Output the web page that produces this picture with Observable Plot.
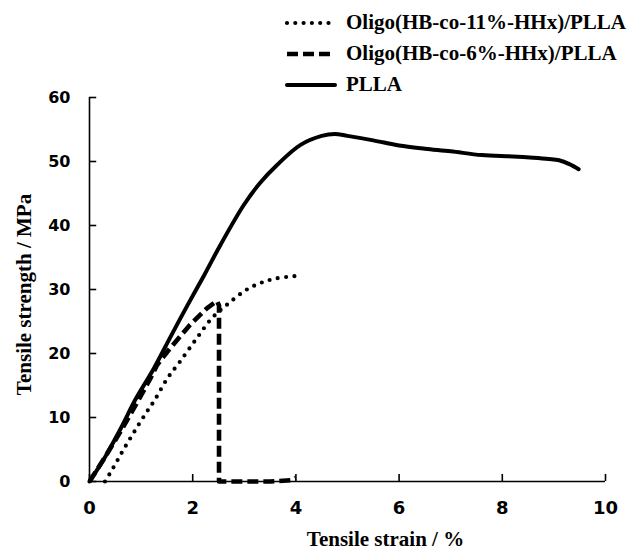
<!DOCTYPE html>
<html><head><meta charset="utf-8">
<script src="https://cdn.jsdelivr.net/npm/d3@7"></script>
<script src="https://cdn.jsdelivr.net/npm/@observablehq/plot@0.6"></script>
<style>
body{margin:0;background:#fff}
#wrap{position:relative;width:636px;height:554px;background:#fff}
#legend{position:absolute;left:284px;top:7px;font-family:"Liberation Serif",serif;font-weight:bold;font-size:21px;color:#000}
.row{display:flex;align-items:center;height:31px;white-space:nowrap}
.row svg{margin-right:8px}
</style></head><body><div id="wrap"></div>
<script>
const seriesNames = ["Oligo(HB-co-11%-HHx)/PLLA", "Oligo(HB-co-6%-HHx)/PLLA", "PLLA"];
const xTitle = "Tensile strain / %";
const yTitle = "Tensile strength / MPa";
const xTicks = [0, 2, 4, 6, 8, 10];
const yTicks = [0, 10, 20, 30, 40, 50, 60];

const strain11 = [0.30, 0.45, 0.66, 0.90, 1.12, 1.27, 1.50, 1.76, 2.08, 2.37, 2.66, 3.05, 3.31, 3.60, 3.99];
const stress11 = [0.0, 2.0, 5.0, 8.2, 11.0, 12.8, 16.0, 18.8, 22.4, 25.5, 27.6, 30.0, 31.0, 31.7, 32.1];

const strain6 = [0.00, 0.30, 0.60, 0.90, 1.18, 1.31, 1.56, 1.95, 2.28, 2.47, 2.51, 2.51, 3.00, 3.50, 3.90, 3.99];
const stress6 = [0.0, 3.8, 7.8, 12.0, 16.1, 18.2, 20.8, 24.5, 27.1, 28.2, 27.5, 0.0, 0.0, 0.0, 0.2, 0.6];

const strainPLLA = [0.00, 0.30, 0.60, 0.89, 1.25, 1.57, 1.89, 2.22, 2.54, 2.99, 3.30, 3.64, 4.09, 4.50, 4.75, 5.00, 5.50, 6.00, 6.50, 7.00, 7.60, 8.20, 8.60, 8.90, 9.10, 9.30, 9.48];
const stressPLLA = [0.0, 3.8, 8.2, 12.8, 17.7, 22.6, 27.4, 32.2, 37.0, 43.2, 46.6, 49.5, 52.6, 54.0, 54.3, 54.0, 53.3, 52.5, 52.0, 51.6, 51.0, 50.8, 50.6, 50.4, 50.2, 49.6, 48.8];

const styles = [
  {strokeWidth: 4.2, strokeDasharray: "0 8.3", strokeLinecap: "round", curve: "catmull-rom"},
  {strokeWidth: 4.6, strokeDasharray: "11 5", strokeLinecap: "butt", curve: "linear"},
  {strokeWidth: 4, strokeDasharray: null, strokeLinecap: "round", curve: "catmull-rom"}
];

const mk = (xs, ys) => xs.map((x, i) => ({x, y: ys[i]}));
const d11 = mk(strain11, stress11);
const d6 = mk(strain6, stress6);
const dP = mk(strainPLLA, stressPLLA);

const serif = "Liberation Serif";
const chart = Plot.plot({
  width: 636, height: 554,
  marginLeft: 89, marginRight: 31, marginTop: 97, marginBottom: 73,
  x: {domain: [0, 10]},
  y: {domain: [0, 60]},
  style: {fontFamily: "DejaVu Sans", fontWeight: "bold", color: "#000", background: "#fff", overflow: "visible"},
  marks: [
    Plot.ruleY([0], {stroke: "#000", strokeWidth: 1.6}),
    Plot.ruleX([0], {stroke: "#000", strokeWidth: 1.6}),
    Plot.ruleX(xTicks, {y1: 0, y2: 1.1, stroke: "#000", strokeWidth: 1.6}),
    Plot.ruleY(yTicks, {x1: 0, x2: 0.14, stroke: "#000", strokeWidth: 1.6}),
    Plot.axisX({ticks: xTicks, tickSize: 0, tickPadding: 20, fontSize: 18, label: null, tickFormat: d => String(d)}),
    Plot.axisY({ticks: yTicks, tickSize: 0, tickPadding: 19, fontSize: 16, label: null, tickFormat: d => String(d)}),
    Plot.line(d11, {x: "x", y: "y", stroke: "#000", ...styles[0]}),
    Plot.line(d6, {x: "x", y: "y", stroke: "#000", ...styles[1]}),
    Plot.line(dP, {x: "x", y: "y", stroke: "#000", ...styles[2]}),
    Plot.text([xTitle], {frameAnchor: "bottom", textAnchor: "middle", lineAnchor: "middle", dx: 38, dy: 58, fontFamily: serif, fontSize: 21, fontWeight: "bold", fill: "#000"}),
    Plot.text([yTitle], {frameAnchor: "left", textAnchor: "middle", lineAnchor: "middle", rotate: -90, dx: -65, dy: 5, fontFamily: serif, fontSize: 21, fontWeight: "bold", fill: "#000"})
  ]
});

const wrap = document.getElementById("wrap");
wrap.appendChild(chart);

const legend = d3.select(wrap).append("div").attr("id", "legend");
seriesNames.forEach((name, i) => {
  const row = legend.append("div").attr("class", "row");
  const svg = row.append("svg").attr("width", 54).attr("height", 10);
  const st = styles[i];
  svg.append("line")
    .attr("x1", 3).attr("x2", 51).attr("y1", 5).attr("y2", 5)
    .attr("stroke", "#000")
    .attr("stroke-width", st.strokeWidth)
    .attr("stroke-dasharray", st.strokeDasharray)
    .attr("stroke-linecap", st.strokeLinecap);
  row.append("span").text(name);
});
</script>
</body></html>
